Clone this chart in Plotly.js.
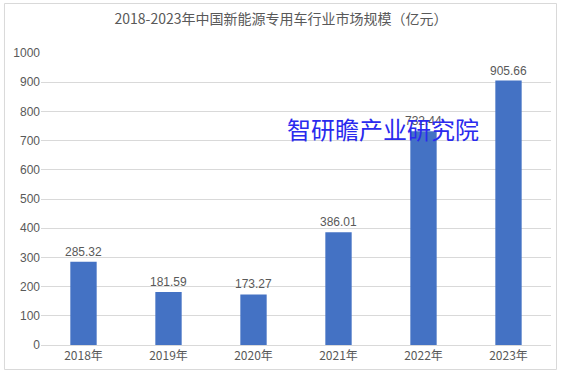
<!DOCTYPE html>
<html><head><meta charset="utf-8">
<script src="https://cdn.plot.ly/plotly-3.0.1.min.js"></script>
<style>html,body{margin:0;padding:0;background:#fff;}#c{width:562px;height:374px;}</style>
</head><body><div id="c"></div>
<script>
const categories = ["2018年","2019年","2020年","2021年","2022年","2023年"];
const values = [285.32, 181.59, 173.27, 386.01, 732.44, 905.66];
const valueLabels = ["285.32","181.59","173.27","386.01","732.44","905.66"];
const yTicks = [0,100,200,300,400,500,600,700,800,900,1000];

const trace = {
  type: 'bar', x: categories, y: values,
  text: valueLabels, textposition: 'outside', cliponaxis: false, constraintext: 'none',
  textfont: {family: 'Liberation Sans, Arial, sans-serif', size: 12, color: '#595959'},
  marker: {color: '#4472c4'}, hoverinfo: 'none'
};
const layout = {
  width: 562, height: 374,
  margin: {l: 41, r: 11, t: 53, b: 29},
  paper_bgcolor: '#fff', plot_bgcolor: '#fff',
  bargap: 0.69, showlegend: false,
  font: {family: '"Noto Sans CJK SC", "Liberation Sans", sans-serif', color: '#808080', size: 12},
  title: {text: '2018-2023年中国新能源专用车行业市场规模（亿元）', x: 0.5, xanchor: 'center', y: 0.95, yanchor: 'middle',
          font: {size: 14, color: '#595959', family: '"Noto Sans CJK SC", sans-serif'}},
  xaxis: {type: 'category', showgrid: false, showline: true, linecolor: '#d9d9d9', linewidth: 1,
          ticks: '', tickfont: {size: 12, color: '#595959'}, fixedrange: true},
  yaxis: {range: [0, 1000], tickvals: yTicks, showgrid: true, gridcolor: '#d9d9d9', gridwidth: 1,
          zeroline: false, showline: false, ticks: '', ticklen: 0,
          tickfont: {size: 12, color: '#595959', family: 'Liberation Sans, Arial, sans-serif'}, fixedrange: true},
  shapes: [{type: 'rect', xref: 'paper', yref: 'paper', x0: -0.0716, x1: 1.0108, y0: -0.0839, y1: 1.1695,
            line: {color: '#d9d9d9', width: 1}, fillcolor: 'rgba(0,0,0,0)', layer: 'below'}],
  annotations: [{text: '智研瞻产业研究院', xref: 'paper', yref: 'paper', x: 0.671, y: 0.74,
                 xanchor: 'center', yanchor: 'middle', showarrow: false,
                 font: {size: 24, color: '#2a2aee', family: '"Noto Sans CJK SC", sans-serif'}}]
};
Plotly.newPlot('c', [trace], layout, {staticPlot: true, displayModeBar: false});
</script></body></html>
